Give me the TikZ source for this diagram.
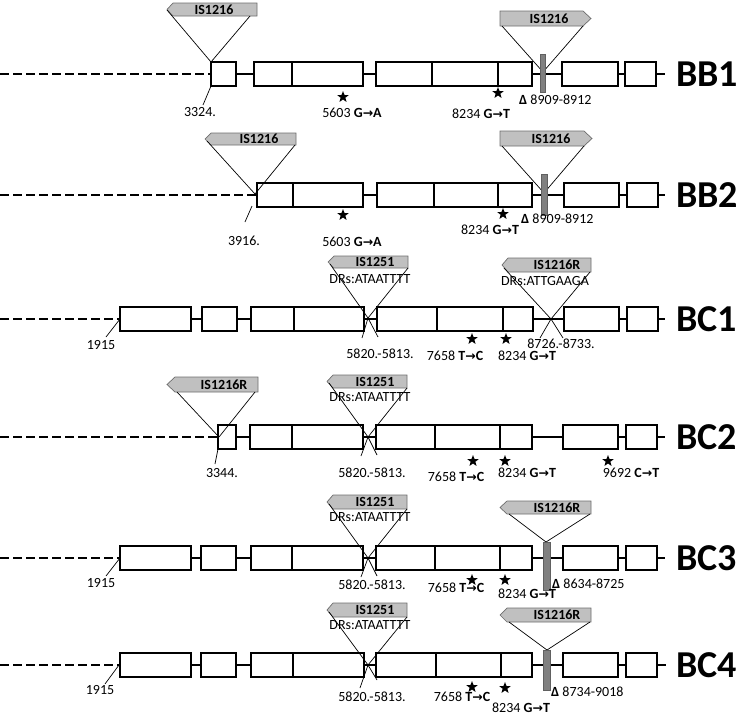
\documentclass[tikz,border=0pt]{standalone}
\usepackage{fontspec}
\setmainfont{Carlito}
\newfontfamily\symfont{DejaVu Sans}
\usetikzlibrary{shapes.geometric}
\definecolor{isgray}{RGB}{192,192,192}
\definecolor{isedge}{RGB}{110,110,110}
\definecolor{bargray}{RGB}{128,128,128}
\newcommand\rar{{\symfont\bfseries\fontsize{12.5}{13}\selectfont →}}
\newcommand\mut[2]{#1 \textbf{#2}}
\tikzset{
 gene/.style={draw=black, line width=2pt, fill=white},
 bbone/.style={line width=2pt},
 dbone/.style={line width=2pt, dash pattern=on 9pt off 4pt},
 ins/.style={line width=0.7pt},
 isbox/.style={fill=isgray, draw=isedge, line width=0.7pt},
 islbl/.style={font=\bfseries\fontsize{14}{16}\selectfont, inner sep=0},
 lbl/.style={font=\fontsize{14}{16}\selectfont, inner sep=0},
 lblw/.style={lbl, anchor=west},
 rowlbl/.style={font=\bfseries\fontsize{38}{40}\selectfont, inner sep=0, anchor=west},
 mstar/.style={star, star points=5, star point ratio=2.4, fill=black, draw=none, inner sep=0, minimum size=12pt},
 delbar/.style={fill=bargray, draw=bargray!75!black, line width=0.5pt},
}
\newcommand\genes[2]{\foreach \a/\b in {#2} {\draw[gene] (\a,#1-12) rectangle (\b,#1+12);}}
% left-pointing IS element: name, tip x, body x, right x, top, bottom, text x, text
\newcommand\isL[8]{%
 \filldraw[isbox] (#2,{(#5+#6)/2}) -- (#3,#5) -- (#4,#5) -- (#4,#6) -- (#3,#6) -- cycle;
 \node[islbl] (#1) at (#7,{(#5+#6)/2}) {#8};}
% right-pointing IS element: name, left x, body end x, tip x, top, bottom, text x, text
\newcommand\isR[8]{%
 \filldraw[isbox] (#2,#5) -- (#3,#5) -- (#4,{(#5+#6)/2}) -- (#3,#6) -- (#2,#6) -- cycle;
 \node[islbl] (#1) at (#7,{(#5+#6)/2}) {#8};}
\begin{document}
\begin{tikzpicture}[x=1pt,y=-1pt]
\useasboundingbox (0,0) rectangle (739,718);

%================ BB1 =================
\draw[dbone] (0,74) -- (211,74);
\draw[bbone] (211,74) -- (665,74);
\genes{74}{211/236,254/292,292/363,376/432,432/498,498/532,562/618,625/656}
\isL{isA}{167}{173}{257}{3}{16}{214}{IS1216}
\coordinate (a1) at (211,62);
\draw[ins] (167,10) -- (a1);
\draw[ins] (250,16) -- (a1);
\coordinate (a1b) at (211,86);
\node[lbl] (p3324) at (200,112) {3324.};
\draw[ins] (a1b) -- (203,105);
\isR{isB}{500}{583}{591}{11}{26}{549}{IS1216}
\coordinate (a2) at (543,72);
\draw[ins] (502,26) -- (a2);
\draw[ins] (583,26) -- (a2);
\filldraw[delbar] (540,54) rectangle (545.5,92);
\node[mstar] (s1a) at (343,97) {};
\node[mstar] (s1b) at (498,93) {};
\node[lbl] (m1a) at (352,113) {\mut{5603}{G\rar A}};
\node[lbl] (m1b) at (481,114) {\mut{8234}{G\rar T}};
\node[lblw] (d1) at (519,100) {\textbf{Δ} 8909-8912};
\node[rowlbl] (BB1) at (676,74) {BB1};

%================ BB2 =================
\draw[dbone] (0,195) -- (255,195);
\draw[bbone] (255,195) -- (665,195);
\genes{195}{257/293,293/363,377/434,434/498,498/532,564/619,627/658}
\isL{isC}{205}{211}{296}{133}{145}{259}{IS1216}
\coordinate (b1) at (255,194);
\draw[ins] (207,141) -- (b1);
\draw[ins] (295,145) -- (b1);
\node[lbl] (p3916) at (244,241) {3916.};
\draw[ins] (252,206) -- (245,222);
\isR{isD}{500}{584}{592}{131}{146}{551}{IS1216}
\coordinate (b2) at (544,193);
\draw[ins] (502,146) -- (b2);
\draw[ins] (584,146) -- (b2);
\filldraw[delbar] (541.5,174) rectangle (547,215);
\node[mstar] (s2a) at (343,215) {};
\node[mstar] (s2b) at (503,214) {};
\node[lbl] (m2a) at (352,242) {\mut{5603}{G\rar A}};
\node[lbl] (m2b) at (490,230) {\mut{8234}{G\rar T}};
\node[lblw] (d2) at (521,219) {\textbf{Δ} 8909-8912};
\node[rowlbl] (BB2) at (676,195) {BB2};

%================ BC1 =================
\draw[dbone] (0,319) -- (120,319);
\draw[bbone] (120,319) -- (665,319);
\genes{319}{120/191,202/237,251/294,294/364,377/437,437/503,503/533,564/619,627/658}
\node[lbl] (p1915a) at (101,345) {1915};
\draw[ins] (120,319) -- (106,337);
\isL{isE}{328}{334}{408}{256}{268}{375}{IS1251}
\node[lbl] (dr1) at (370,279) {DRs:ATAATTTT};
\coordinate (c1) at (368,318);
\draw[ins] (330,264) -- (c1) -- (378,337);
\draw[ins] (408,268) -- (c1) -- (362,338);
\node[lbl] (p5820a) at (380,354) {5820.-5813.};
\isL{isF}{502}{508}{591}{258}{272}{557}{IS1216R}
\node[lbl] (dr2) at (545,281) {DRs:ATTGAAGA};
\coordinate (c2) at (551,319);
\draw[ins] (504,268) -- (c2) -- (563,338);
\draw[ins] (590,272) -- (c2) -- (540,338);
\node[lbl] (p8726) at (561,344) {8726.-8733.};
\node[mstar] (s3a) at (472,339) {};
\node[mstar] (s3b) at (506,339) {};
\node[lbl] (m3a) at (455,356) {\mut{7658}{T\rar C}};
\node[lbl] (m3b) at (527,356) {\mut{8234}{G\rar T}};
\node[rowlbl] (BC1) at (676,319) {BC1};

%================ BC2 =================
\draw[dbone] (0,437) -- (218,437);
\draw[bbone] (218,437) -- (665,437);
\genes{437}{218/236,250/292,292/363,376/435,435/500,500/532,563/618,626/657}
\isL{isG}{167}{175}{258}{377}{392}{224}{IS1216R}
\coordinate (e1) at (219,437);
\draw[ins] (177,392) -- (e1);
\draw[ins] (255,392) -- (e1);
\node[lbl] (p3344) at (222,473) {3344.};
\draw[ins] (218,449) -- (215,464);
\isL{isH}{327}{333}{407}{375}{388}{375}{IS1251}
\node[lbl] (dr3) at (370,397) {DRs:ATAATTTT};
\coordinate (e2) at (368,437);
\draw[ins] (329,383) -- (e2) -- (377,455);
\draw[ins] (407,388) -- (e2) -- (361,456);
\node[lbl] (p5820b) at (372,473) {5820.-5813.};
\node[mstar] (s4a) at (473,461) {};
\node[mstar] (s4b) at (505,461) {};
\node[mstar] (s4c) at (608,461) {};
\node[lbl] (m4a) at (456,477) {\mut{7658}{T\rar C}};
\node[lbl] (m4b) at (527,473) {\mut{8234}{G\rar T}};
\node[lbl] (m4c) at (631,473) {\mut{9692}{C\rar T}};
\node[rowlbl] (BC2) at (676,437) {BC2};

%================ BC3 =================
\draw[dbone] (0,558) -- (120,558);
\draw[bbone] (120,558) -- (665,558);
\genes{558}{120/191,201/236,251/292,292/363,376/435,435/500,500/532,563/618,626/657}
\node[lbl] (p1915b) at (101,583) {1915};
\draw[ins] (120,558) -- (106,576);
\isL{isI}{327}{333}{407}{495}{509}{375}{IS1251}
\node[lbl] (dr4) at (370,517) {DRs:ATAATTTT};
\coordinate (f1) at (368,558);
\draw[ins] (329,504) -- (f1) -- (377,576);
\draw[ins] (407,509) -- (f1) -- (361,577);
\node[lbl] (p5820c) at (372,585) {5820.-5813.};
\isL{isJ}{500}{507}{591}{501}{514}{557}{IS1216R}
\coordinate (f2) at (546,542);
\draw[ins] (509,514) -- (f2);
\draw[ins] (590,514) -- (f2);
\filldraw[delbar] (543,542) rectangle (550,590);
\node[mstar] (s5a) at (472,580) {};
\node[mstar] (s5b) at (505,580) {};
\node[lbl] (m5a) at (456,588) {\mut{7658}{T\rar C}};
\node[lbl] (m5b) at (527,594) {\mut{8234}{G\rar T}};
\node[lblw] (d5) at (552,584) {\textbf{Δ} 8634-8725};
\node[rowlbl] (BC3) at (676,558) {BC3};

%================ BC4 =================
\draw[dbone] (0,665) -- (120,665);
\draw[bbone] (120,665) -- (666,665);
\genes{665}{120/191,201/236,251/293,293/364,376/436,436/501,501/532,563/618,626/657}
\node[lbl] (p1915c) at (100,690) {1915};
\draw[ins] (119,665) -- (105,684);
\isL{isK}{327}{333}{407}{603}{617}{375}{IS1251}
\node[lbl] (dr5) at (370,625) {DRs:ATAATTTT};
\coordinate (g1) at (368,665);
\draw[ins] (329,612) -- (g1) -- (377,680);
\draw[ins] (407,617) -- (g1) -- (360,688);
\node[lbl] (p5820d) at (372,697) {5820.-5813.};
\isL{isL}{500}{507}{591}{608}{622}{557}{IS1216R}
\coordinate (g2) at (547,650);
\draw[ins] (509,622) -- (g2);
\draw[ins] (590,622) -- (g2);
\filldraw[delbar] (543,650) rectangle (550,690);
\node[mstar] (s6a) at (472,687) {};
\node[mstar] (s6b) at (505,688) {};
\node[lbl] (m6a) at (462,697) {\mut{7658}{T\rar C}};
\node[lbl] (m6b) at (521,708) {\mut{8234}{G\rar T}};
\node[lblw] (d6) at (551,692) {\textbf{Δ} 8734-9018};
\node[rowlbl] (BC4) at (676,665) {BC4};
\end{tikzpicture}
\end{document}
